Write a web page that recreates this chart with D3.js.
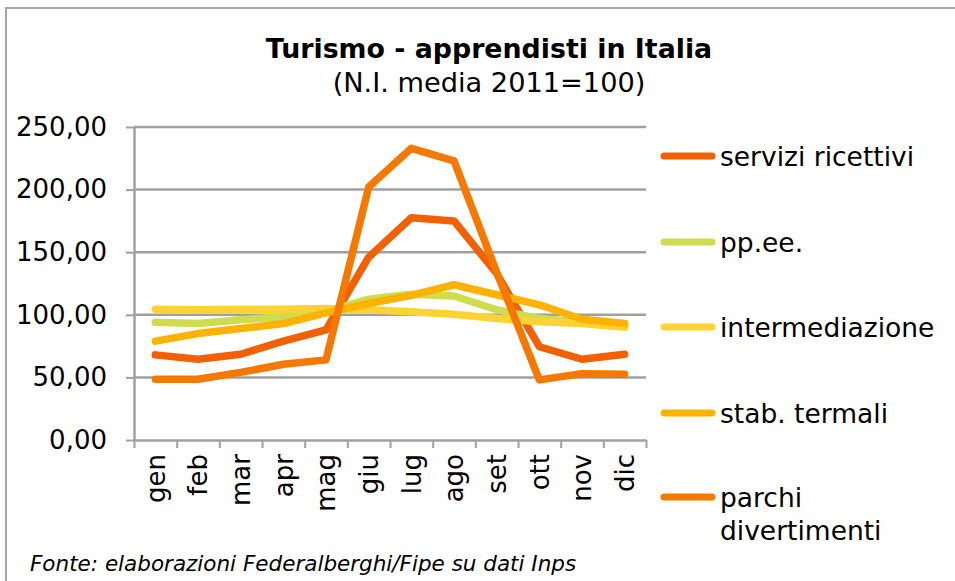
<!DOCTYPE html>
<html>
<head>
<meta charset="utf-8">
<script src="https://cdn.jsdelivr.net/npm/d3@7"></script>
<style>
  body { margin: 0; background: #fff; }
  text { font-family: "DejaVu Sans", Verdana, sans-serif; fill: #000; }
</style>
</head>
<body>
<script>
// values (N.I. media 2011=100)
const months = ['gen', 'feb', 'mar', 'apr', 'mag', 'giu', 'lug', 'ago', 'set', 'ott', 'nov', 'dic']
const seriesNames = ['servizi ricettivi', 'pp.ee.', 'intermediazione', 'stab. termali', 'parchi divertimenti']
const serviziRicettivi = [68, 64.5, 68.5, 79, 88, 146, 177.5, 175, 133, 74.5, 64.5, 68.5]
const ppee = [94, 93, 96, 98.5, 102.5, 112.5, 116.5, 115, 104, 97, 94, 91]
const intermediazione = [104.5, 104, 104.5, 104.5, 105, 104, 102.5, 100.5, 97, 94.5, 93, 90]
const stabTermali = [79, 85, 89, 93, 101.5, 109, 115.5, 124, 116, 108, 96.5, 93]
const parchiDivertimenti = [48.5, 48.5, 54, 60.5, 64, 202, 233, 223, 134, 48, 53, 52.5]
const yTicks = [0, 50, 100, 150, 200, 250]

const seriesValues = [serviziRicettivi, ppee, intermediazione, stabTermali, parchiDivertimenti]
const colors = ['#f26000', '#cfdc4f', '#ffd333', '#ffb200', '#f57800']

const w = 955
const h = 581
const plotL = 134, plotR = 646, plotT = 127, plotB = 440
const gridColor = '#a0a0a0'

const it = d3.formatLocale({decimal: ',', thousands: '.', grouping: [3], currency: ['', '€']})
const fmt = it.format('.2f')

const svg = d3.select('body')
  .append('svg')
  .attr('width', w)
  .attr('height', h)

// outer frame
svg.append('rect')
  .attr('x', 6)
  .attr('y', 8)
  .attr('width', 970)
  .attr('height', 620)
  .style('fill', 'none')
  .style('stroke', '#a6a6a6')
  .style('stroke-width', 2)

svg.append('text')
  .attr('x', 489)
  .attr('y', 58)
  .attr('text-anchor', 'middle')
  .style('font-size', '26.8px')
  .style('font-weight', 'bold')
  .text('Turismo - apprendisti in Italia')

svg.append('text')
  .attr('x', 489)
  .attr('y', 92)
  .attr('text-anchor', 'middle')
  .style('font-size', '27.2px')
  .text('(N.I. media 2011=100)')

const x = d3.scaleBand()
  .domain(months)
  .range([plotL, plotR])

const xEdge = d3.scaleLinear()
  .domain([0, months.length])
  .range([plotL, plotR])

const y = d3.scaleLinear()
  .domain([0, 250])
  .range([plotB, plotT])

// gridlines
svg.append('g')
  .selectAll('line')
  .data(yTicks.filter(d => d > 0))
  .enter()
  .append('line')
  .attr('x1', plotL)
  .attr('x2', plotR)
  .attr('y1', d => y(d))
  .attr('y2', d => y(d))
  .style('stroke', gridColor)
  .style('stroke-width', 2.5)

// y axis
const yAxis = svg.append('g')
  .attr('transform', `translate(${plotL},0)`)
  .call(d3.axisLeft(y).tickValues(yTicks).tickFormat(fmt).tickSize(8).tickSizeOuter(0).tickPadding(19))
yAxis.select('.domain').style('stroke', gridColor).style('stroke-width', 2.5)
yAxis.selectAll('line').style('stroke', gridColor).style('stroke-width', 2)
yAxis.selectAll('text')
  .style('font-size', '26px')
  .style('font-family', '"DejaVu Sans", Verdana, sans-serif')
  .attr('fill', '#000')

// x axis ticks at band edges
const xTickAxis = svg.append('g')
  .attr('transform', `translate(0,${plotB})`)
  .call(d3.axisBottom(xEdge).tickValues(d3.range(months.length + 1)).tickFormat('').tickSize(8).tickSizeOuter(0))
xTickAxis.select('.domain').style('stroke', gridColor).style('stroke-width', 2.5)
xTickAxis.selectAll('line').style('stroke', gridColor).style('stroke-width', 2)

// x labels, rotated
const xAxis = svg.append('g')
  .attr('transform', `translate(0,${plotB})`)
  .call(d3.axisBottom(x).tickSize(0))
xAxis.select('.domain').remove()
xAxis.selectAll('text')
  .attr('transform', 'rotate(-90)')
  .attr('text-anchor', 'end')
  .attr('x', -14)
  .attr('y', 0)
  .attr('dy', '0.36em')
  .style('font-size', '26px')
  .style('font-family', '"DejaVu Sans", Verdana, sans-serif')
  .attr('fill', '#000')

// lines
const line = d3.line()
  .x((d, i) => x(months[i]) + x.bandwidth() / 2)
  .y(d => y(d))

svg.append('g')
  .selectAll('path')
  .data(seriesValues)
  .enter()
  .append('path')
  .attr('d', d => line(d))
  .style('fill', 'none')
  .style('stroke', (d, i) => colors[i])
  .style('stroke-width', 7.5)
  .style('stroke-linejoin', 'round')
  .style('stroke-linecap', 'round')

// legend
const legendY = [156, 242, 327, 413, 497]
const legend = svg.append('g')
  .selectAll('g')
  .data(seriesNames)
  .enter()
  .append('g')
  .attr('transform', (d, i) => `translate(0,${legendY[i]})`)

legend.append('line')
  .attr('x1', 664)
  .attr('x2', 712)
  .style('stroke', (d, i) => colors[i])
  .style('stroke-width', 7)
  .style('stroke-linecap', 'round')

legend.append('text')
  .attr('x', 720)
  .attr('y', 10)
  .style('font-size', '26.5px')
  .each(function (d) {
    const parts = d === 'parchi divertimenti' ? ['parchi', 'divertimenti'] : [d]
    d3.select(this).selectAll('tspan')
      .data(parts)
      .enter()
      .append('tspan')
      .attr('x', 720)
      .attr('dy', (p, j) => j === 0 ? 0 : 33)
      .text(p => p)
  })

svg.append('text')
  .attr('x', 30)
  .attr('y', 571)
  .style('font-size', '21.5px')
  .style('font-style', 'italic')
  .text('Fonte: elaborazioni Federalberghi/Fipe su dati Inps')
</script>
</body>
</html>
